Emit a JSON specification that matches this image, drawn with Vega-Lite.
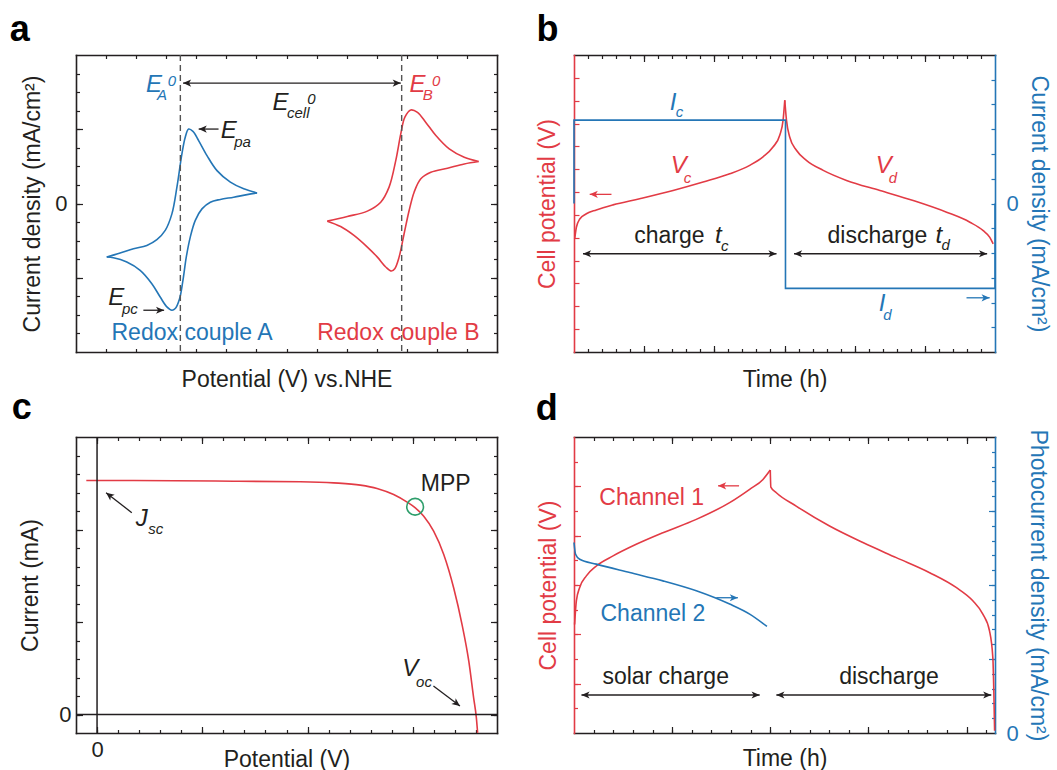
{
"$schema":"https://vega.github.io/schema/vega-lite/v6.json",
"padding":{"left":9,"top":11,"right":10,"bottom":5},
"background":"white",
"config":{"font":"Liberation Sans","view":{"stroke":null},
 "axis":{"grid":false,"domainColor":"#231f20","domainWidth":1.6,"domainCap":"square","tickColor":"#231f20","tickWidth":1.2,"labelFontSize":22,"labelColor":"#231f20","titleFontSize":23,"titleFontWeight":"normal","titleColor":"#231f20","labelFont":"Liberation Sans","titleFont":"Liberation Sans"}},
"bounds":"flush",
"columns":2,
"spacing":{"row":85,"column":77},
"concat":[
{"width":421,"height":297,
 "resolve":{"axis":{"x":"independent","y":"independent"}},
 "layer":[
  {"data":{"values":[
   {"x":1.022,"y":-2.885,"br":"A1","s":"b","o":1},{"x":1.467,"y":-2.67,"br":"A1","s":"b","o":2},{"x":1.911,"y":-2.44,"br":"A1","s":"b","o":3},{"x":2.356,"y":-2.26,"br":"A1","s":"b","o":4},{"x":2.689,"y":-1.95,"br":"A1","s":"b","o":5},{"x":2.967,"y":-1.45,"br":"A1","s":"b","o":6},{"x":3.189,"y":-0.56,"br":"A1","s":"b","o":7},{"x":3.356,"y":0.88,"br":"A1","s":"b","o":8},{"x":3.522,"y":2.67,"br":"A1","s":"b","o":9},{"x":3.633,"y":3.57,"br":"A1","s":"b","o":10},{"x":3.744,"y":4.01,"br":"A1","s":"b","o":11},{"x":3.889,"y":3.89,"br":"A1","s":"b","o":12},{"x":4.078,"y":3.39,"br":"A1","s":"b","o":13},{"x":4.356,"y":2.58,"br":"A1","s":"b","o":14},{"x":4.689,"y":1.77,"br":"A1","s":"b","o":15},{"x":5.133,"y":1.15,"br":"A1","s":"b","o":16},{"x":5.578,"y":0.79,"br":"A1","s":"b","o":17},{"x":6.022,"y":0.57,"br":"A1","s":"b","o":18},
   {"x":6.022,"y":0.57,"br":"A2","s":"b","o":19},{"x":5.689,"y":0.48,"br":"A2","s":"b","o":20},{"x":5.244,"y":0.34,"br":"A2","s":"b","o":21},{"x":4.8,"y":0.22,"br":"A2","s":"b","o":22},{"x":4.467,"y":0.07,"br":"A2","s":"b","o":23},{"x":4.189,"y":-0.29,"br":"A2","s":"b","o":24},{"x":3.967,"y":-0.91,"br":"A2","s":"b","o":25},{"x":3.8,"y":-1.81,"br":"A2","s":"b","o":26},{"x":3.667,"y":-2.89,"br":"A2","s":"b","o":27},{"x":3.556,"y":-4.14,"br":"A2","s":"b","o":28},{"x":3.444,"y":-5.13,"br":"A2","s":"b","o":29},{"x":3.3,"y":-5.66,"br":"A2","s":"b","o":30},{"x":3.189,"y":-5.75,"br":"A2","s":"b","o":31},{"x":3.022,"y":-5.57,"br":"A2","s":"b","o":32},{"x":2.8,"y":-5.04,"br":"A2","s":"b","o":33},{"x":2.522,"y":-4.32,"br":"A2","s":"b","o":34},{"x":2.133,"y":-3.6,"br":"A2","s":"b","o":35},{"x":1.689,"y":-3.15,"br":"A2","s":"b","o":36},{"x":1.244,"y":-2.92,"br":"A2","s":"b","o":37},{"x":1.022,"y":-2.885,"br":"A2","s":"b","o":38},
   {"x":8.356,"y":-0.95,"br":"B1","s":"r","o":41},{"x":9.022,"y":-0.7,"br":"B1","s":"r","o":42},{"x":9.689,"y":-0.41,"br":"B1","s":"r","o":43},{"x":10.133,"y":0.07,"br":"B1","s":"r","o":44},{"x":10.411,"y":0.88,"br":"B1","s":"r","o":45},{"x":10.633,"y":2.31,"br":"B1","s":"r","o":46},{"x":10.8,"y":3.75,"br":"B1","s":"r","o":47},{"x":10.933,"y":4.64,"br":"B1","s":"r","o":48},{"x":11.133,"y":5.04,"br":"B1","s":"r","o":49},{"x":11.356,"y":4.91,"br":"B1","s":"r","o":50},{"x":11.633,"y":4.37,"br":"B1","s":"r","o":51},{"x":11.967,"y":3.66,"br":"B1","s":"r","o":52},{"x":12.411,"y":2.94,"br":"B1","s":"r","o":53},{"x":12.911,"y":2.49,"br":"B1","s":"r","o":54},{"x":13.389,"y":2.26,"br":"B1","s":"r","o":55},
   {"x":13.389,"y":2.26,"br":"B2","s":"r","o":56},{"x":12.911,"y":2.13,"br":"B2","s":"r","o":57},{"x":12.356,"y":1.9,"br":"B2","s":"r","o":58},{"x":11.8,"y":1.68,"br":"B2","s":"r","o":59},{"x":11.467,"y":1.33,"br":"B2","s":"r","o":60},{"x":11.244,"y":0.61,"br":"B2","s":"r","o":61},{"x":11.078,"y":-0.38,"br":"B2","s":"r","o":62},{"x":10.911,"y":-1.63,"br":"B2","s":"r","o":63},{"x":10.744,"y":-2.89,"br":"B2","s":"r","o":64},{"x":10.6,"y":-3.51,"br":"B2","s":"r","o":65},{"x":10.489,"y":-3.64,"br":"B2","s":"r","o":66},{"x":10.3,"y":-3.42,"br":"B2","s":"r","o":67},{"x":10.022,"y":-2.89,"br":"B2","s":"r","o":68},{"x":9.689,"y":-2.35,"br":"B2","s":"r","o":69},{"x":9.244,"y":-1.72,"br":"B2","s":"r","o":70},{"x":8.8,"y":-1.24,"br":"B2","s":"r","o":71},{"x":8.356,"y":-0.95,"br":"B2","s":"r","o":72}
  ]},
   "mark":{"type":"line","strokeWidth":1.6,"interpolate":"catmull-rom"},
   "encoding":{
    "x":{"field":"x","type":"quantitative","scale":{"domain":[0,14]},"axis":{"orient":"bottom","values":[1,2,3,4,5,6,7,8,9,10,11,12,13],"tickSize":-3.5,"labels":false,"domain":true,"title":"Potential (V) vs.NHE","titlePadding":16}},
    "y":{"field":"y","type":"quantitative","scale":{"domain":[-8,8]},"axis":{"orient":"left","values":[-7,-6,-5,-4,-3,-2,-1,0,1,2,3,4,5,6,7],"tickSize":-3.5,"labels":false,"domain":true,"title":"Current density (mA/cm²)","titlePadding":31}},
    "color":{"field":"s","type":"nominal","scale":{"domain":["r","b","k","g"],"range":["#e23b45","#2476b6","#231f20","#2e9e6b"]},"legend":null},
    "detail":{"field":"br"},
    "order":{"field":"o","type":"quantitative"}}},
  {"data":{"values":[{"x":3.47},{"x":10.83}]},
   "mark":{"type":"rule","stroke":"#555555","strokeWidth":1.4,"strokeDash":[6,4]},
   "encoding":{"x":{"field":"x","type":"quantitative","scale":{"domain":[0,14]},"axis":{"orient":"top","values":[1,2,3,4,5,6,7,8,9,10,11,12,13],"tickSize":-3.5,"labels":false,"domain":true,"title":null}}}},
  {"data":{"values":[{"x":3.56,"x2":10.8,"y":6.49,"y2":6.49,"s":"k"},{"x":4.74,"x2":4.08,"y":4.01,"y2":4.01,"s":"k"},{"x":2.24,"x2":2.93,"y":-5.75,"y2":-5.75,"s":"k"}]},
   "mark":{"type":"rule","strokeWidth":1.3},
   "encoding":{"x":{"field":"x","type":"quantitative","scale":{"domain":[0,14]},"axis":null},"x2":{"field":"x2"},
    "y":{"field":"y","type":"quantitative","scale":{"domain":[-8,8]},"axis":{"orient":"right","values":[-7,-6,-5,-4,-3,-2,-1,0,1,2,3,4,5,6,7],"tickSize":-3.5,"labels":false,"domain":true,"title":null}},"y2":{"field":"y2"},
    "color":{"field":"s","type":"nominal","scale":{"domain":["r","b","k","g"],"range":["#e23b45","#2476b6","#231f20","#2e9e6b"]},"legend":null}}},
  {"data":{"values":[{"x":3.56,"y":6.49,"s":"k"},{"x":4.08,"y":4.01,"s":"k"}]},
   "mark":{"type":"point","shape":"M0,0 L0.6,1.35 L0,1 L-0.6,1.35 Z","filled":true,"size":144,"angle":270,"opacity":1},
   "encoding":{"x":{"field":"x","type":"quantitative","scale":{"domain":[0,14]},"axis":null},
    "y":{"field":"y","type":"quantitative","scale":{"domain":[-8,8]},"axis":{"orient":"left","values":[0],"ticks":false,"labels":true,"labelPadding":9,"domain":false,"title":null}},
    "color":{"field":"s","type":"nominal","scale":{"domain":["r","b","k","g"],"range":["#e23b45","#2476b6","#231f20","#2e9e6b"]},"legend":null}}},
  {"data":{"values":[{"x":10.8,"y":6.49,"s":"k"},{"x":2.93,"y":-5.75,"s":"k"}]},
   "mark":{"type":"point","shape":"M0,0 L0.6,1.35 L0,1 L-0.6,1.35 Z","filled":true,"size":144,"angle":90,"opacity":1},
   "encoding":{"x":{"field":"x","type":"quantitative","scale":{"domain":[0,14]},"axis":null},
    "y":{"field":"y","type":"quantitative","scale":{"domain":[-8,8]},"axis":{"orient":"right","values":[-4,0,4],"tickSize":-6.5,"labels":false,"domain":false,"title":null}},
    "color":{"field":"s","type":"nominal","scale":{"domain":["r","b","k","g"],"range":["#e23b45","#2476b6","#231f20","#2e9e6b"]},"legend":null}}},
  {"data":{"values":[{"x":2.59,"y":6.38,"t":"E","s":"b"},{"x":6.8,"y":5.43,"t":"E","s":"k"},{"x":11.36,"y":6.38,"t":"E","s":"r"},{"x":5.08,"y":3.89,"t":"E","s":"k"},{"x":1.34,"y":-5.07,"t":"E","s":"k"}]},
   "mark":{"type":"text","fontSize":24,"fontStyle":"italic","align":"center","baseline":"middle"},
   "encoding":{"x":{"field":"x","type":"quantitative","scale":{"domain":[0,14]},"axis":null},
    "y":{"field":"y","type":"quantitative","scale":{"domain":[-8,8]},"axis":{"orient":"left","values":[-4,0,4],"tickSize":-6.5,"labels":false,"domain":false,"title":null}},
    "text":{"field":"t"},
    "color":{"field":"s","type":"nominal","scale":{"domain":["r","b","k","g"],"range":["#e23b45","#2476b6","#231f20","#2e9e6b"]},"legend":null}}},
  {"data":{"values":[{"x":2.86,"y":5.86,"t":"A","s":"b"},{"x":3.19,"y":6.61,"t":"0","s":"b"},{"x":7.39,"y":4.88,"t":"cell","s":"k"},{"x":7.83,"y":5.65,"t":"0","s":"k"},{"x":11.7,"y":5.86,"t":"B","s":"r"},{"x":11.98,"y":6.61,"t":"0","s":"r"},{"x":5.54,"y":3.3,"t":"pa","s":"k"},{"x":1.79,"y":-5.7,"t":"pc","s":"k"}]},
   "mark":{"type":"text","fontSize":15,"fontStyle":"italic","align":"center","baseline":"middle"},
   "encoding":{"x":{"field":"x","type":"quantitative","scale":{"domain":[0,14]},"axis":null},
    "y":{"field":"y","type":"quantitative","scale":{"domain":[-8,8]},"axis":null},
    "text":{"field":"t"},
    "color":{"field":"s","type":"nominal","scale":{"domain":["r","b","k","g"],"range":["#e23b45","#2476b6","#231f20","#2e9e6b"]},"legend":null}}},
  {"data":{"values":[{"x":3.86,"y":-6.95,"t":"Redox couple A","s":"b"},{"x":10.72,"y":-6.95,"t":"Redox couple B","s":"r"}]},
   "mark":{"type":"text","fontSize":23,"align":"center","baseline":"middle"},
   "encoding":{"x":{"field":"x","type":"quantitative","scale":{"domain":[0,14]},"axis":null},
    "y":{"field":"y","type":"quantitative","scale":{"domain":[-8,8]},"axis":null},
    "text":{"field":"t"},
    "color":{"field":"s","type":"nominal","scale":{"domain":["r","b","k","g"],"range":["#e23b45","#2476b6","#231f20","#2e9e6b"]},"legend":null}}},
  {"data":{"values":[{"x":-2.2,"y":8.76,"t":"a"}]},
   "mark":{"type":"text","fontSize":36,"fontWeight":"bold","align":"left","baseline":"alphabetic","color":"#000000"},
   "encoding":{"x":{"field":"x","type":"quantitative","scale":{"domain":[0,14]},"axis":null},
    "y":{"field":"y","type":"quantitative","scale":{"domain":[-8,8]},"axis":null},
    "text":{"field":"t"}}}
 ]},
{"width":421,"height":297,
 "resolve":{"scale":{"y":"independent"},"axis":{"x":"independent","y":"independent"}},
 "layer":[
  {"data":{"values":[
   {"x":0.05,"y":4.95,"br":"c"},{"x":0.17,"y":5.46,"br":"c"},{"x":0.41,"y":5.82,"br":"c"},{"x":0.88,"y":6.05,"br":"c"},{"x":1.59,"y":6.22,"br":"c"},{"x":2.78,"y":6.44,"br":"c"},{"x":4.68,"y":6.71,"br":"c"},{"x":7.06,"y":7.07,"br":"c"},{"x":9.2,"y":7.44,"br":"c"},{"x":11.1,"y":7.8,"br":"c"},{"x":12.52,"y":8.17,"br":"c"},{"x":13.47,"y":8.54,"br":"c"},{"x":14.18,"y":8.97,"br":"c"},{"x":14.66,"y":9.49,"br":"c"},{"x":14.9,"y":10.15,"br":"c"},{"x":15.02,"y":11.02,"br":"c"},
   {"x":15.02,"y":11.02,"br":"d"},{"x":15.14,"y":10.15,"br":"d"},{"x":15.37,"y":9.41,"br":"d"},{"x":15.85,"y":8.83,"br":"d"},{"x":16.56,"y":8.39,"br":"d"},{"x":17.76,"y":7.95,"br":"d"},{"x":19.42,"y":7.51,"br":"d"},{"x":21.8,"y":7.07,"br":"d"},{"x":24.17,"y":6.63,"br":"d"},{"x":26.55,"y":6.12,"br":"d"},{"x":28.21,"y":5.68,"br":"d"},{"x":29.16,"y":5.31,"br":"d"},{"x":29.63,"y":5.02,"br":"d"},{"x":29.87,"y":4.73,"br":"d"}
  ]},
   "mark":{"type":"line","strokeWidth":1.6,"interpolate":"monotone","stroke":"#e23b45"},
   "encoding":{
    "x":{"field":"x","type":"quantitative","scale":{"domain":[0,30]},"axis":{"orient":"bottom","values":[1,2,3,4,5,6,7,8,9,10,11,12,13,14,15,16,17,18,19,20,21,22,23,24,25,26,27,28,29],"tickSize":-3.5,"labels":false,"domain":true,"title":"Time (h)","titlePadding":16}},
    "y":{"field":"y","type":"quantitative","scale":{"domain":[0,13]},"axis":{"orient":"left","values":[1,2,3,4,5,6,7,8,9,10,11,12],"tickSize":-5,"tickColor":"#e23b45","domainColor":"#e23b45","labels":false,"domain":true,"title":"Cell potential (V)","titleColor":"#e23b45","titlePadding":14}},
    "detail":{"field":"br"}}},
  {"data":{"values":[{"x":0,"y":0,"o":1},{"x":0,"y":3.37,"o":2},{"x":15.07,"y":3.37,"o":3},{"x":15.07,"y":-3.43,"o":4},{"x":30,"y":-3.43,"o":5},{"x":30,"y":0,"o":6}]},
   "mark":{"type":"line","strokeWidth":1.6,"stroke":"#2476b6"},
   "encoding":{
    "x":{"field":"x","type":"quantitative","scale":{"domain":[0,30]},"axis":{"orient":"top","values":[1,2,3,4,5,6,7,8,9,10,11,12,13,14,15,16,17,18,19,20,21,22,23,24,25,26,27,28,29],"tickSize":-3.5,"labels":false,"domain":true,"title":null}},
    "y":{"field":"y","type":"quantitative","scale":{"domain":[-6,6]},"axis":{"orient":"right","values":[-5,-4,-3,-2,-1,0,1,2,3,4,5],"tickSize":-4,"tickColor":"#2476b6","domainColor":"#2476b6","labels":false,"domain":true,"title":"Current density (mA/cm²)","titleColor":"#2476b6","titlePadding":31}},
    "order":{"field":"o","type":"quantitative"}}},
  {"data":{"values":[{"x":27.97,"x2":29.62,"y":-3.81,"y2":-3.81}]},
   "mark":{"type":"rule","strokeWidth":1.3,"stroke":"#2476b6"},
   "encoding":{"x":{"field":"x","type":"quantitative","scale":{"domain":[0,30]},"axis":null},"x2":{"field":"x2"},
    "y":{"field":"y","type":"quantitative","scale":{"domain":[-6,6]},"axis":{"orient":"right","values":[0],"ticks":false,"labels":true,"labelColor":"#2476b6","labelPadding":11,"domain":false,"title":null}},"y2":{"field":"y2"}}},
  {"data":{"values":[{"x":29.62,"y":-3.81}]},
   "mark":{"type":"point","shape":"M0,0 L0.6,1.35 L0,1 L-0.6,1.35 Z","filled":true,"size":144,"angle":90,"opacity":1,"color":"#2476b6"},
   "encoding":{"x":{"field":"x","type":"quantitative","scale":{"domain":[0,30]},"axis":null},
    "y":{"field":"y","type":"quantitative","scale":{"domain":[-6,6]},"axis":null}}},
  {"data":{"values":[{"x":0.64,"x2":14.43,"y":4.3,"y2":4.3,"s":"k"},{"x":15.68,"x2":29.44,"y":4.3,"y2":4.3,"s":"k"},{"x":1.12,"x2":2.67,"y":6.9,"y2":6.9,"s":"r"}]},
   "mark":{"type":"rule","strokeWidth":1.3},
   "encoding":{"x":{"field":"x","type":"quantitative","scale":{"domain":[0,30]},"axis":{"orient":"bottom","values":[5,10,15,20,25],"tickSize":-6.5,"labels":false,"domain":false,"title":null}},"x2":{"field":"x2"},
    "y":{"field":"y","type":"quantitative","scale":{"domain":[0,13]},"axis":null},"y2":{"field":"y2"},
    "color":{"field":"s","type":"nominal","scale":{"domain":["r","b","k","g"],"range":["#e23b45","#2476b6","#231f20","#2e9e6b"]},"legend":null}}},
  {"data":{"values":[{"x":0.64,"y":4.3,"s":"k"},{"x":15.68,"y":4.3,"s":"k"},{"x":1.12,"y":6.9,"s":"r"}]},
   "mark":{"type":"point","shape":"M0,0 L0.6,1.35 L0,1 L-0.6,1.35 Z","filled":true,"size":144,"angle":270,"opacity":1},
   "encoding":{"x":{"field":"x","type":"quantitative","scale":{"domain":[0,30]},"axis":{"orient":"top","values":[5,10,15,20,25],"tickSize":-6.5,"labels":false,"domain":false,"title":null}},
    "y":{"field":"y","type":"quantitative","scale":{"domain":[0,13]},"axis":null},
    "color":{"field":"s","type":"nominal","scale":{"domain":["r","b","k","g"],"range":["#e23b45","#2476b6","#231f20","#2e9e6b"]},"legend":null}}},
  {"data":{"values":[{"x":14.43,"y":4.3,"s":"k"},{"x":29.44,"y":4.3,"s":"k"}]},
   "mark":{"type":"point","shape":"M0,0 L0.6,1.35 L0,1 L-0.6,1.35 Z","filled":true,"size":144,"angle":90,"opacity":1},
   "encoding":{"x":{"field":"x","type":"quantitative","scale":{"domain":[0,30]},"axis":null},
    "y":{"field":"y","type":"quantitative","scale":{"domain":[0,13]},"axis":null},
    "color":{"field":"s","type":"nominal","scale":{"domain":["r","b","k","g"],"range":["#e23b45","#2476b6","#231f20","#2e9e6b"]},"legend":null}}},
  {"data":{"values":[{"x":7.06,"y":10.91,"t":"I","s":"b"},{"x":7.46,"y":8.14,"t":"V","s":"r"},{"x":22.07,"y":8.14,"t":"V","s":"r"},{"x":10.29,"y":5.08,"t":"t","s":"k"},{"x":26.0,"y":5.08,"t":"t","s":"k"},{"x":21.95,"y":2.09,"t":"I","s":"b"}]},
   "mark":{"type":"text","fontSize":24,"fontStyle":"italic","align":"center","baseline":"middle"},
   "encoding":{"x":{"field":"x","type":"quantitative","scale":{"domain":[0,30]},"axis":null},
    "y":{"field":"y","type":"quantitative","scale":{"domain":[0,13]},"axis":null},
    "text":{"field":"t"},
    "color":{"field":"s","type":"nominal","scale":{"domain":["r","b","k","g"],"range":["#e23b45","#2476b6","#231f20","#2e9e6b"]},"legend":null}}},
  {"data":{"values":[{"x":7.51,"y":10.52,"t":"c","s":"b"},{"x":8.08,"y":7.6,"t":"c","s":"r"},{"x":22.72,"y":7.63,"t":"d","s":"r"},{"x":10.74,"y":4.64,"t":"c","s":"k"},{"x":26.49,"y":4.67,"t":"d","s":"k"},{"x":22.34,"y":1.62,"t":"d","s":"b"}]},
   "mark":{"type":"text","fontSize":15,"fontStyle":"italic","align":"center","baseline":"middle"},
   "encoding":{"x":{"field":"x","type":"quantitative","scale":{"domain":[0,30]},"axis":null},
    "y":{"field":"y","type":"quantitative","scale":{"domain":[0,13]},"axis":null},
    "text":{"field":"t"},
    "color":{"field":"s","type":"nominal","scale":{"domain":["r","b","k","g"],"range":["#e23b45","#2476b6","#231f20","#2e9e6b"]},"legend":null}}},
  {"data":{"values":[{"x":6.8,"y":5.08,"t":"charge"},{"x":21.62,"y":5.08,"t":"discharge"}]},
   "mark":{"type":"text","fontSize":23,"align":"center","baseline":"middle","color":"#231f20"},
   "encoding":{"x":{"field":"x","type":"quantitative","scale":{"domain":[0,30]},"axis":null},
    "y":{"field":"y","type":"quantitative","scale":{"domain":[0,13]},"axis":null},
    "text":{"field":"t"}}},
  {"data":{"values":[{"x":-2.68,"y":13.61,"t":"b"}]},
   "mark":{"type":"text","fontSize":36,"fontWeight":"bold","align":"left","baseline":"alphabetic","color":"#000000"},
   "encoding":{"x":{"field":"x","type":"quantitative","scale":{"domain":[0,30]},"axis":null},
    "y":{"field":"y","type":"quantitative","scale":{"domain":[0,13]},"axis":null},
    "text":{"field":"t"}}}
 ]},
{"width":421,"height":296,
 "resolve":{"axis":{"x":"independent","y":"independent"}},
 "layer":[
  {"data":{"values":[{"x":-0.51,"y":12.65},{"x":1.74,"y":12.65},{"x":6.49,"y":12.61},{"x":9.66,"y":12.58},{"x":11.24,"y":12.52},{"x":12.51,"y":12.4},{"x":13.3,"y":12.22},{"x":14.09,"y":11.89},{"x":14.73,"y":11.48},{"x":15.12,"y":11.17},{"x":15.52,"y":10.72},{"x":15.99,"y":9.91},{"x":16.47,"y":8.65},{"x":16.94,"y":6.85},{"x":17.34,"y":4.86},{"x":17.66,"y":2.88},{"x":17.89,"y":0.9},{"x":18.02,"y":-0.18},{"x":18.08,"y":-0.99}]},
   "mark":{"type":"line","strokeWidth":1.6,"interpolate":"monotone","stroke":"#e23b45"},
   "encoding":{
    "x":{"field":"x","type":"quantitative","scale":{"domain":[-1,19]},"axis":{"orient":"bottom","values":[0,1,2,3,4,5,6,7,8,9,10,11,12,13,14,15,16,17,18],"tickSize":-3.5,"labels":false,"domain":true,"title":"Potential (V)","titlePadding":15}},
    "y":{"field":"y","type":"quantitative","scale":{"domain":[-1,15]},"axis":{"orient":"left","values":[0,1,2,3,4,5,6,7,8,9,10,11,12,13,14],"tickSize":-3.5,"labels":false,"domain":true,"title":"Current (mA)","titlePadding":33}}}},
  {"data":{"values":[{"x":0}]},
   "mark":{"type":"rule","strokeWidth":1.5,"color":"#231f20"},
   "encoding":{"x":{"field":"x","type":"quantitative","scale":{"domain":[-1,19]},"axis":{"orient":"top","values":[0,1,2,3,4,5,6,7,8,9,10,11,12,13,14,15,16,17,18],"tickSize":-3.5,"labels":false,"domain":true,"title":null}}}},
  {"data":{"values":[{"y":0}]},
   "mark":{"type":"rule","strokeWidth":1.5,"color":"#231f20"},
   "encoding":{"y":{"field":"y","type":"quantitative","scale":{"domain":[-1,15]},"axis":{"orient":"right","values":[0,1,2,3,4,5,6,7,8,9,10,11,12,13,14],"tickSize":-3.5,"labels":false,"domain":true,"title":null}}}},
  {"data":{"values":[{"x":1.65,"y":10.91,"x2":0.43,"y2":11.99},{"x":15.98,"y":1.54,"x2":17.24,"y2":0.46}]},
   "mark":{"type":"rule","strokeWidth":1.3,"color":"#231f20"},
   "encoding":{"x":{"field":"x","type":"quantitative","scale":{"domain":[-1,19]},"axis":{"orient":"bottom","values":[0],"ticks":false,"labels":true,"labelPadding":6,"domain":false,"title":null}},"x2":{"field":"x2"},
    "y":{"field":"y","type":"quantitative","scale":{"domain":[-1,15]},"axis":{"orient":"left","values":[0],"ticks":false,"labels":true,"labelPadding":5,"domain":false,"title":null}},"y2":{"field":"y2"}}},
  {"data":{"values":[{"x":0.43,"y":11.99}]},
   "mark":{"type":"point","shape":"M0,0 L0.6,1.35 L0,1 L-0.6,1.35 Z","filled":true,"size":144,"angle":308,"opacity":1,"color":"#231f20"},
   "encoding":{"x":{"field":"x","type":"quantitative","scale":{"domain":[-1,19]},"axis":{"orient":"top","values":[0,5,10,15],"tickSize":-6.5,"labels":false,"domain":false,"title":null}},
    "y":{"field":"y","type":"quantitative","scale":{"domain":[-1,15]},"axis":{"orient":"right","values":[0,5,10],"tickSize":-6.5,"labels":false,"domain":false,"title":null}}}},
  {"data":{"values":[{"x":17.24,"y":0.46}]},
   "mark":{"type":"point","shape":"M0,0 L0.6,1.35 L0,1 L-0.6,1.35 Z","filled":true,"size":144,"angle":127,"opacity":1,"color":"#231f20"},
   "encoding":{"x":{"field":"x","type":"quantitative","scale":{"domain":[-1,19]},"axis":{"orient":"bottom","values":[0,5,10,15],"tickSize":-6.5,"labels":false,"domain":false,"title":null}},
    "y":{"field":"y","type":"quantitative","scale":{"domain":[-1,15]},"axis":null}}},
  {"data":{"values":[{"x":15.11,"y":11.23}]},
   "mark":{"type":"point","shape":"circle","filled":false,"size":280,"strokeWidth":1.6,"opacity":1,"color":"#2e9e6b"},
   "encoding":{"x":{"field":"x","type":"quantitative","scale":{"domain":[-1,19]},"axis":null},
    "y":{"field":"y","type":"quantitative","scale":{"domain":[-1,15]},"axis":{"orient":"left","values":[0,5,10],"tickSize":-6.5,"labels":false,"domain":false,"title":null}}}},
  {"data":{"values":[{"x":2.12,"y":10.58,"t":"J"},{"x":14.88,"y":2.44,"t":"V"}]},
   "mark":{"type":"text","fontSize":24,"fontStyle":"italic","align":"center","baseline":"middle","color":"#231f20"},
   "encoding":{"x":{"field":"x","type":"quantitative","scale":{"domain":[-1,19]},"axis":null},
    "y":{"field":"y","type":"quantitative","scale":{"domain":[-1,15]},"axis":null},
    "text":{"field":"t"}}},
  {"data":{"values":[{"x":2.79,"y":10.01,"t":"sc"},{"x":15.53,"y":1.76,"t":"oc"}]},
   "mark":{"type":"text","fontSize":15,"fontStyle":"italic","align":"center","baseline":"middle","color":"#231f20"},
   "encoding":{"x":{"field":"x","type":"quantitative","scale":{"domain":[-1,19]},"axis":null},
    "y":{"field":"y","type":"quantitative","scale":{"domain":[-1,15]},"axis":null},
    "text":{"field":"t"}}},
  {"data":{"values":[{"x":16.56,"y":12.44,"t":"MPP"}]},
   "mark":{"type":"text","fontSize":23,"align":"center","baseline":"middle","color":"#231f20"},
   "encoding":{"x":{"field":"x","type":"quantitative","scale":{"domain":[-1,19]},"axis":null},
    "y":{"field":"y","type":"quantitative","scale":{"domain":[-1,15]},"axis":null},
    "text":{"field":"t"}}},
  {"data":{"values":[{"x":-4.05,"y":15.96,"t":"c"}]},
   "mark":{"type":"text","fontSize":36,"fontWeight":"bold","align":"left","baseline":"alphabetic","color":"#000000"},
   "encoding":{"x":{"field":"x","type":"quantitative","scale":{"domain":[-1,19]},"axis":null},
    "y":{"field":"y","type":"quantitative","scale":{"domain":[-1,15]},"axis":null},
    "text":{"field":"t"}}}
 ]},
{"width":421,"height":296,
 "resolve":{"scale":{"y":"independent"},"axis":{"x":"independent","y":"independent"}},
 "layer":[
  {"data":{"values":[
   {"x":0.03,"y":4.4,"br":"c"},{"x":0.12,"y":5.36,"br":"c"},{"x":0.29,"y":5.9,"br":"c"},{"x":0.63,"y":6.37,"br":"c"},{"x":1.14,"y":6.77,"br":"c"},{"x":1.99,"y":7.18,"br":"c"},{"x":3.17,"y":7.65,"br":"c"},{"x":4.53,"y":8.12,"br":"c"},{"x":6.23,"y":8.66,"br":"c"},{"x":7.93,"y":9.34,"br":"c"},{"x":8.95,"y":9.88,"br":"c"},{"x":9.63,"y":10.28,"br":"c"},{"x":10.0,"y":10.66,"br":"c"},
   {"x":10.0,"y":10.66,"br":"d"},{"x":10.03,"y":9.97,"br":"d"},{"x":10.31,"y":9.74,"br":"d"},{"x":11.32,"y":9.2,"br":"d"},{"x":13.02,"y":8.39,"br":"d"},{"x":14.72,"y":7.72,"br":"d"},{"x":16.42,"y":7.11,"br":"d"},{"x":18.12,"y":6.5,"br":"d"},{"x":19.47,"y":5.9,"br":"d"},{"x":20.32,"y":5.36,"br":"d"},{"x":20.83,"y":4.82,"br":"d"},{"x":21.17,"y":4.14,"br":"d"},{"x":21.34,"y":3.06,"br":"d"},{"x":21.39,"y":1.71,"br":"d"},{"x":21.43,"y":0.09,"br":"d"}
  ]},
   "mark":{"type":"line","strokeWidth":1.6,"interpolate":"monotone","stroke":"#e23b45"},
   "encoding":{
    "x":{"field":"x","type":"quantitative","scale":{"domain":[0,21.45]},"axis":{"orient":"bottom","values":[1,2,3,4,5,6,7,8,9,10,11,12,13,14,15,16,17,18,19,20,21],"tickSize":-3.5,"labels":false,"domain":true,"title":"Time (h)","titlePadding":14}},
    "y":{"field":"y","type":"quantitative","scale":{"domain":[0,12]},"axis":{"orient":"left","values":[1,2,3,4,5,6,7,8,9,10,11],"tickSize":-3.5,"tickColor":"#e23b45","domainColor":"#e23b45","labels":false,"domain":true,"title":"Cell potential (V)","titleColor":"#e23b45","titlePadding":13}},
    "detail":{"field":"br"}}},
  {"data":{"values":[{"x":0,"y":12.87},{"x":0.08,"y":12.08},{"x":0.29,"y":11.74},{"x":1.14,"y":11.41},{"x":2.84,"y":10.84},{"x":4.53,"y":10.28},{"x":6.23,"y":9.61},{"x":7.93,"y":8.71},{"x":8.95,"y":8.03},{"x":9.83,"y":7.2}]},
   "mark":{"type":"line","strokeWidth":1.6,"interpolate":"monotone","stroke":"#2476b6"},
   "encoding":{
    "x":{"field":"x","type":"quantitative","scale":{"domain":[0,21.45]},"axis":{"orient":"top","values":[1,2,3,4,5,6,7,8,9,10,11,12,13,14,15,16,17,18,19,20,21],"tickSize":-3.5,"labels":false,"domain":true,"title":null}},
    "y":{"field":"y","type":"quantitative","scale":{"domain":[0,20]},"axis":{"orient":"right","values":[1,2,3,4,5,6,7,8,9,10,11,12,13,14,15,16,17,18,19],"tickSize":-3.5,"tickColor":"#2476b6","domainColor":"#2476b6","labels":false,"domain":true,"title":"Photocurrent density (mA/cm²)","titleColor":"#2476b6","titlePadding":30}}}},
  {"data":{"values":[{"x":7.25,"x2":8.35,"y":9.14,"y2":9.14}]},
   "mark":{"type":"rule","strokeWidth":1.3,"stroke":"#2476b6"},
   "encoding":{"x":{"field":"x","type":"quantitative","scale":{"domain":[0,21.45]},"axis":null},"x2":{"field":"x2"},
    "y":{"field":"y","type":"quantitative","scale":{"domain":[0,20]},"axis":{"orient":"right","values":[0],"ticks":false,"labels":true,"labelColor":"#2476b6","labelPadding":11,"domain":false,"title":null}},"y2":{"field":"y2"}}},
  {"data":{"values":[{"x":8.35,"y":9.14}]},
   "mark":{"type":"point","shape":"M0,0 L0.6,1.35 L0,1 L-0.6,1.35 Z","filled":true,"size":144,"angle":90,"opacity":1,"color":"#2476b6"},
   "encoding":{"x":{"field":"x","type":"quantitative","scale":{"domain":[0,21.45]},"axis":null},
    "y":{"field":"y","type":"quantitative","scale":{"domain":[0,20]},"axis":{"orient":"right","values":[5,10,15],"tickSize":-6.5,"tickColor":"#2476b6","labels":false,"domain":false,"title":null}}}},
  {"data":{"values":[{"x":7.34,"x2":8.41,"y":10.02,"y2":10.02,"s":"r"},{"x":0.38,"x2":9.46,"y":1.54,"y2":1.54,"s":"k"},{"x":10.31,"x2":21.26,"y":1.54,"y2":1.54,"s":"k"}]},
   "mark":{"type":"rule","strokeWidth":1.3},
   "encoding":{"x":{"field":"x","type":"quantitative","scale":{"domain":[0,21.45]},"axis":{"orient":"bottom","values":[5,10,15,20],"tickSize":-6.5,"labels":false,"domain":false,"title":null}},"x2":{"field":"x2"},
    "y":{"field":"y","type":"quantitative","scale":{"domain":[0,12]},"axis":{"orient":"left","values":[2,4,6,8,10],"tickSize":-6.5,"tickColor":"#e23b45","labels":false,"domain":false,"title":null}},"y2":{"field":"y2"},
    "color":{"field":"s","type":"nominal","scale":{"domain":["r","b","k","g"],"range":["#e23b45","#2476b6","#231f20","#2e9e6b"]},"legend":null}}},
  {"data":{"values":[{"x":7.34,"y":10.02,"s":"r"},{"x":0.38,"y":1.54,"s":"k"},{"x":10.31,"y":1.54,"s":"k"}]},
   "mark":{"type":"point","shape":"M0,0 L0.6,1.35 L0,1 L-0.6,1.35 Z","filled":true,"size":144,"angle":270,"opacity":1},
   "encoding":{"x":{"field":"x","type":"quantitative","scale":{"domain":[0,21.45]},"axis":{"orient":"top","values":[5,10,15,20],"tickSize":-6.5,"labels":false,"domain":false,"title":null}},
    "y":{"field":"y","type":"quantitative","scale":{"domain":[0,12]},"axis":null},
    "color":{"field":"s","type":"nominal","scale":{"domain":["r","b","k","g"],"range":["#e23b45","#2476b6","#231f20","#2e9e6b"]},"legend":null}}},
  {"data":{"values":[{"x":9.46,"y":1.54,"s":"k"},{"x":21.26,"y":1.54,"s":"k"}]},
   "mark":{"type":"point","shape":"M0,0 L0.6,1.35 L0,1 L-0.6,1.35 Z","filled":true,"size":144,"angle":90,"opacity":1},
   "encoding":{"x":{"field":"x","type":"quantitative","scale":{"domain":[0,21.45]},"axis":null},
    "y":{"field":"y","type":"quantitative","scale":{"domain":[0,12]},"axis":null},
    "color":{"field":"s","type":"nominal","scale":{"domain":["r","b","k","g"],"range":["#e23b45","#2476b6","#231f20","#2e9e6b"]},"legend":null}}},
  {"data":{"values":[{"x":3.96,"y":9.54,"t":"Channel 1","s":"r"},{"x":4.02,"y":4.84,"t":"Channel 2","s":"b"},{"x":4.67,"y":2.28,"t":"solar charge","s":"k"},{"x":16.05,"y":2.28,"t":"discharge","s":"k"}]},
   "mark":{"type":"text","fontSize":23,"align":"center","baseline":"middle"},
   "encoding":{"x":{"field":"x","type":"quantitative","scale":{"domain":[0,21.45]},"axis":null},
    "y":{"field":"y","type":"quantitative","scale":{"domain":[0,12]},"axis":null},
    "text":{"field":"t"},
    "color":{"field":"s","type":"nominal","scale":{"domain":["r","b","k","g"],"range":["#e23b45","#2476b6","#231f20","#2e9e6b"]},"legend":null}}},
  {"data":{"values":[{"x":-1.95,"y":12.68,"t":"d"}]},
   "mark":{"type":"text","fontSize":36,"fontWeight":"bold","align":"left","baseline":"alphabetic","color":"#000000"},
   "encoding":{"x":{"field":"x","type":"quantitative","scale":{"domain":[0,21.45]},"axis":null},
    "y":{"field":"y","type":"quantitative","scale":{"domain":[0,12]},"axis":null},
    "text":{"field":"t"}}}
 ]}
]}
